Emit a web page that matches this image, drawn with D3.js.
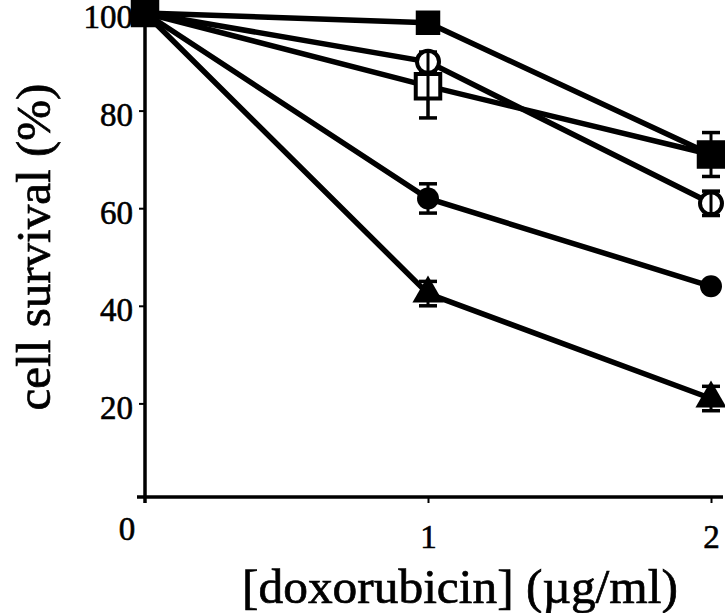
<!DOCTYPE html>
<html>
<head>
<meta charset="utf-8">
<script src="https://cdn.jsdelivr.net/npm/d3@7"></script>
<style>
  body { margin: 0; background: #fff; }
  svg text { font-family: "Liberation Serif", "Times New Roman", Times, serif; fill: #000; }
</style>
</head>
<body>
<div id="chart"></div>
<script>
// doses (µg/ml)
const doses = [0, 1, 2];

// cell survival (%) per series, and error (SD) per point
const filledSquare = [100, 98, 71];
const filledSquareErr = [0, 0, 4.5];
const openCircle = [100, 90, 61];
const openCircleErr = [0, 2, 2.5];
const openSquare = [100, 85, 71];
const openSquareErr = [0, 6.5, 0];
const filledCircle = [100, 62, 44];
const filledCircleErr = [0, 3, 0];
const triangle = [100, 42.5, 21];
const triangleErr = [0, 2.5, 2.5];

const yTicks = [20, 40, 60, 80, 100];
const xTicks = [1, 2];

const series = [
  { name: "triangle", values: triangle, err: triangleErr, shape: "triangle", fill: "#000" },
  { name: "filledCircle", values: filledCircle, err: filledCircleErr, shape: "circle", fill: "#000" },
  { name: "openSquare", values: openSquare, err: openSquareErr, shape: "square", fill: "#fff" },
  { name: "openCircle", values: openCircle, err: openCircleErr, shape: "circle", fill: "#fff" },
  { name: "filledSquare", values: filledSquare, err: filledSquareErr, shape: "square", fill: "#000" }
];

const W = 725, H = 613;
const svg = d3.select("#chart").append("svg")
  .attr("width", W).attr("height", H);

const x = d3.scaleLinear().domain([0, 2]).range([145, 711]);
const y = d3.scaleLinear().domain([0, 100]).range([501, 13]);

const fontFam = '"Liberation Serif", "Times New Roman", Times, serif';

// fit a text element to a target width
function fitWidth(sel, target) {
  const len = sel.node().getComputedTextLength();
  const fs = parseFloat(sel.style("font-size"));
  sel.style("font-size", (fs * target / len) + "px");
}

// axes
const yAxis = d3.axisLeft(y).tickValues(yTicks).tickSize(6).tickPadding(6).tickFormat(d3.format("d"));
const gy = svg.append("g").attr("transform", `translate(${x(0)},0)`).call(yAxis)
  .attr("font-family", fontFam);
gy.select(".domain").remove();
gy.selectAll(".tick line").attr("stroke", "#000").attr("stroke-width", 2);
gy.selectAll(".tick text").style("font-size", "33px").attr("dy", "0.45em")
  .attr("stroke", "#000").attr("stroke-width", 0.6);
svg.append("line")
  .attr("x1", x(0)).attr("x2", x(0))
  .attr("y1", y(100)).attr("y2", y(0) + 2)
  .attr("stroke", "#000").attr("stroke-width", 3.5);

const xAxis = d3.axisBottom(x).tickValues(xTicks).tickSize(6).tickPadding(22).tickFormat(d3.format("d"));
const gx = svg.append("g").attr("transform", `translate(0,${y(0) - 4})`).call(xAxis)
  .attr("font-family", fontFam);
gx.select(".domain").remove();
gx.selectAll(".tick line").attr("stroke", "#000").attr("stroke-width", 2);
gx.selectAll(".tick text").style("font-size", "33px")
  .attr("stroke", "#000").attr("stroke-width", 0.6);
svg.append("line")
  .attr("x1", x(0) - 8).attr("x2", 723)
  .attr("y1", y(0) - 4).attr("y2", y(0) - 4)
  .attr("stroke", "#000").attr("stroke-width", 3.5);

// origin label
svg.append("text")
  .attr("x", x(0) - 18).attr("y", y(0) + 39)
  .attr("text-anchor", "middle")
  .style("font-size", "33px")
  .attr("stroke", "#000").attr("stroke-width", 0.6)
  .text("0");

// axis titles
const yTitle = svg.append("text")
  .attr("transform", `translate(50,247) rotate(-90)`)
  .attr("text-anchor", "middle")
  .style("font-size", "40px")
  .attr("stroke", "#000").attr("stroke-width", 0.7)
  .text("cell survival (%)");
fitWidth(yTitle, 327);

const xTitle = svg.append("text")
  .attr("x", 460).attr("y", 603)
  .attr("text-anchor", "middle")
  .style("font-size", "40px")
  .attr("stroke", "#000").attr("stroke-width", 0.7)
  .text("[doxorubicin] (µg/ml)");
fitWidth(xTitle, 436);

// lines
const line = d3.line().x((d, i) => x(doses[i])).y(d => y(d));
svg.selectAll("path.series")
  .data(series)
  .join("path")
  .attr("class", "series")
  .attr("d", d => line(d.values))
  .attr("fill", "none")
  .attr("stroke", "#000")
  .attr("stroke-width", 5.5);

// markers and error bars
const sym = {
  square: d3.symbol().type(d3.symbolSquare).size(600),
  circle: d3.symbol().type(d3.symbolCircle).size(380),
  triangle: d3.symbol().type(d3.symbolTriangle).size(420)
};

series.forEach(s => {
  const g = svg.append("g").attr("class", s.name);
  s.values.forEach((v, i) => {
    const cx = x(doses[i]), cy = y(v);
    const e = s.err[i];
    if (e > 0) {
      g.append("line")
        .attr("x1", cx).attr("x2", cx)
        .attr("y1", y(v + e)).attr("y2", y(v - e))
        .attr("stroke", "#000").attr("stroke-width", 3);
      [v + e, v - e].forEach(c => {
        g.append("line")
          .attr("x1", cx - 9).attr("x2", cx + 9)
          .attr("y1", y(c)).attr("y2", y(c))
          .attr("stroke", "#000").attr("stroke-width", 3.5);
      });
    }
    const open = s.fill === "#fff";
    g.append("path")
      .attr("d", sym[s.shape]())
      .attr("transform", `translate(${cx},${cy})`)
      .attr("fill", s.fill)
      .attr("stroke", "#000")
      .attr("stroke-width", open ? 4 : 0);
    if (open && e > 0) {
      g.append("line")
        .attr("x1", cx).attr("x2", cx)
        .attr("y1", y(v + e)).attr("y2", y(v - e))
        .attr("stroke", "#000").attr("stroke-width", 3);
    }
  });
});
</script>
</body>
</html>
